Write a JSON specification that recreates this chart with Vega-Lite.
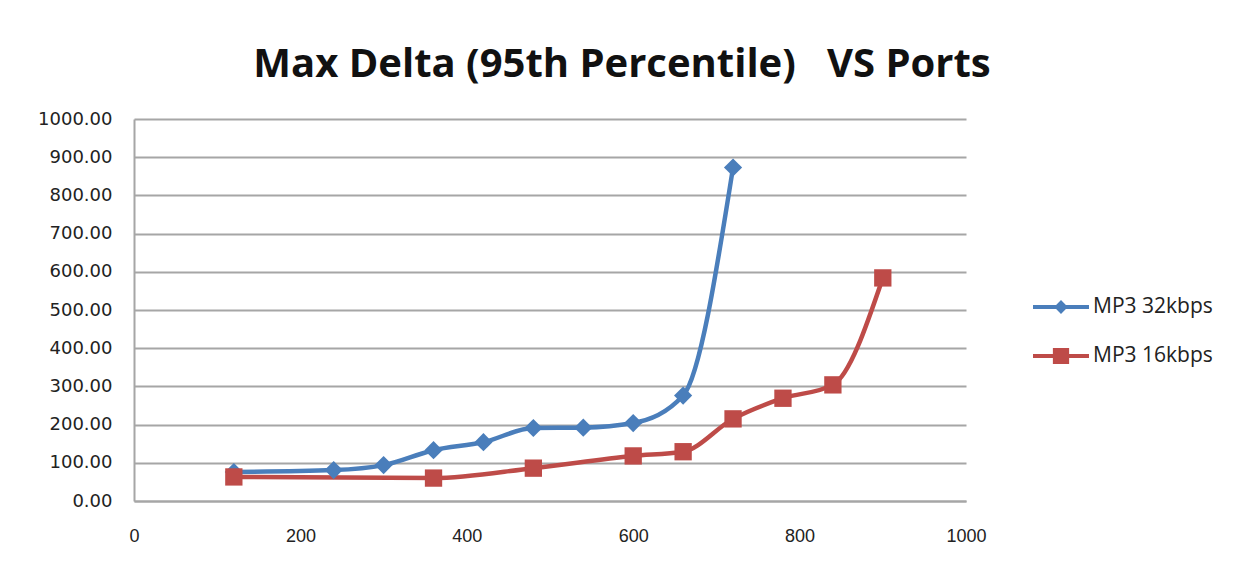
{
  "$schema": "https://vega.github.io/schema/vega-lite/v6.json",
  "width": 832,
  "height": 382,
  "autosize": {"type": "none"},
  "padding": {"left": 134, "top": 119, "right": 280, "bottom": 66},
  "background": "white",
  "title": {
    "text": "Max Delta (95th Percentile) \u00a0\u00a0VS Ports",
    "font": "Open Sans",
    "fontSize": 40,
    "fontWeight": "bold",
    "color": "#111111",
    "anchor": "middle",
    "dx": 72,
    "dy": 48,
    "baseline": "alphabetic",
    "offset": 41
  },
  "config": {
    "view": {"stroke": null},
    "axis": {"gridColor": "#a6a6a6", "gridWidth": 2, "domainColor": "#a6a6a6", "domainWidth": 2, "ticks": false}
  },
  "data": {
    "values": [
      {"series": "MP3 32kbps", "ports": 120, "delta": 76},
      {"series": "MP3 32kbps", "ports": 240, "delta": 81},
      {"series": "MP3 32kbps", "ports": 300, "delta": 94},
      {"series": "MP3 32kbps", "ports": 360, "delta": 133},
      {"series": "MP3 32kbps", "ports": 420, "delta": 154},
      {"series": "MP3 32kbps", "ports": 480, "delta": 191},
      {"series": "MP3 32kbps", "ports": 540, "delta": 192},
      {"series": "MP3 32kbps", "ports": 600, "delta": 204},
      {"series": "MP3 32kbps", "ports": 660, "delta": 276},
      {"series": "MP3 32kbps", "ports": 720, "delta": 873},
      {"series": "MP3 16kbps", "ports": 120, "delta": 63},
      {"series": "MP3 16kbps", "ports": 360, "delta": 60},
      {"series": "MP3 16kbps", "ports": 480, "delta": 86},
      {"series": "MP3 16kbps", "ports": 600, "delta": 118},
      {"series": "MP3 16kbps", "ports": 660, "delta": 129},
      {"series": "MP3 16kbps", "ports": 720, "delta": 215},
      {"series": "MP3 16kbps", "ports": 780, "delta": 269},
      {"series": "MP3 16kbps", "ports": 840, "delta": 304},
      {"series": "MP3 16kbps", "ports": 900, "delta": 584}
    ]
  },
  "encoding": {
    "x": {
      "field": "ports", "type": "quantitative",
      "scale": {"domain": [0, 1000], "nice": false},
      "axis": {"title": null, "values": [0, 200, 400, 600, 800, 1000], "format": "d", "grid": false, "labelFont": "Liberation Sans", "labelFontSize": 18, "labelColor": "#222222", "labelPadding": 26, "labelFlush": false}
    },
    "y": {
      "field": "delta", "type": "quantitative",
      "scale": {"domain": [0, 1000], "nice": false},
      "axis": {"title": null, "values": [0, 100, 200, 300, 400, 500, 600, 700, 800, 900, 1000], "format": ".2f", "labelFont": "DejaVu Sans", "labelFontSize": 18, "labelColor": "#222222", "labelPadding": 22}
    },
    "color": {
      "field": "series", "type": "nominal",
      "scale": {"domain": ["MP3 32kbps", "MP3 16kbps"], "range": ["#4a7ebb", "#be4b48"]}
    }
  },
  "layer": [
    {
      "mark": {"type": "line", "interpolate": "monotone", "strokeWidth": 4.5}
    },
    {
      "transform": [{"filter": "datum.series === 'MP3 32kbps'"}],
      "mark": {"type": "point", "shape": "diamond", "filled": true, "size": 330, "opacity": 1}
    },
    {
      "transform": [{"filter": "datum.series === 'MP3 16kbps'"}],
      "mark": {"type": "point", "shape": "square", "filled": true, "size": 300, "opacity": 1}
    },
    {
      "transform": [{"filter": "datum.delta < 0"}],
      "mark": {"type": "point", "filled": true, "opacity": 1, "strokeWidth": 0},
      "encoding": {
        "shape": {
          "field": "series", "type": "nominal",
          "scale": {
            "domain": ["MP3 32kbps", "MP3 16kbps"],
            "range": [
              "M-2,-0.15 L-0.35,-0.15 L0,-0.5 L0.35,-0.15 L2,-0.15 L2,0.15 L0.35,0.15 L0,0.5 L-0.35,0.15 L-2,0.15 Z",
              "M-2,-0.15 L-0.58,-0.15 L-0.58,-0.58 L0.58,-0.58 L0.58,-0.15 L2,-0.15 L2,0.15 L0.58,0.15 L0.58,0.58 L-0.58,0.58 L-0.58,0.15 L-2,0.15 Z"
            ]
          },
          "legend": {
            "title": null, "orient": "none", "legendX": 913, "legendY": 174,
            "padding": 0, "symbolSize": 784, "symbolStrokeWidth": 0,
            "rowPadding": 25, "labelOffset": 18,
            "labelFont": "Open Sans", "labelFontSize": 21, "labelColor": "#222222"
          }
        }
      }
    }
  ]
}
